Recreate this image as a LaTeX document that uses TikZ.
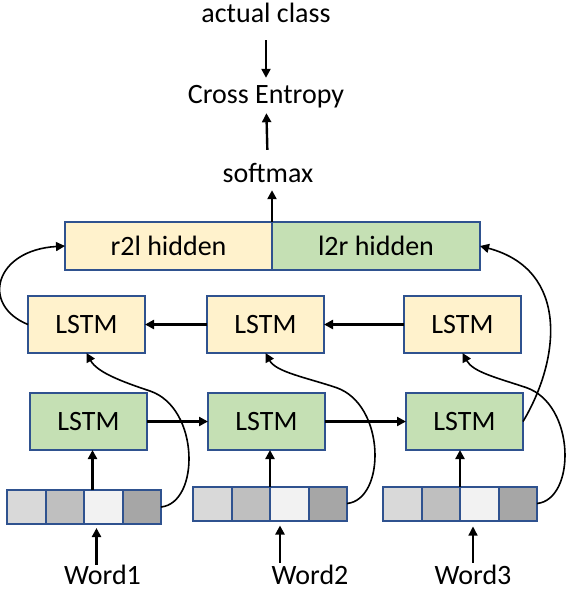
\documentclass[tikz,border=0pt]{standalone}
\usepackage{fontspec}
\setmainfont{Carlito}
\usepackage{xcolor}
\usetikzlibrary{positioning,arrows.meta,calc}

\definecolor{boxblue}{HTML}{2F528F}
\definecolor{r2lfill}{HTML}{FFF2CC}
\definecolor{l2rfill}{HTML}{C5E0B4}
\definecolor{grayA}{HTML}{D9D9D9}
\definecolor{grayB}{HTML}{BFBFBF}
\definecolor{grayC}{HTML}{F2F2F2}
\definecolor{grayD}{HTML}{A6A6A6}

\begin{document}
\begin{tikzpicture}[
  x=1pt, y=-1pt,
  font=\fontsize{28}{33}\selectfont,
  n/.style={draw=boxblue, line width=2pt, minimum width=117pt,
            minimum height=57pt, inner sep=0pt, outer sep=0pt},
  fwd/.style={n, fill=l2rfill},
  bwd/.style={n, fill=r2lfill},
  hid/.style={n, minimum width=207pt, minimum height=48pt},
  cell/.style={draw=boxblue, line width=2pt, minimum width=38.5pt,
               minimum height=34pt, inner sep=0pt, outer sep=0pt},
  txt/.style={text height=19pt, text depth=6pt, inner sep=2pt},
  word/.style={text height=18pt, text depth=0pt, inner sep=1pt},
  >={Triangle[length=9pt,width=9pt]},
  arr/.style={->, line width=2.4pt},
  curve/.style={->, line width=1.6pt}
]
  \useasboundingbox (0,0) rectangle (568,590);

  % --- loss on top
  \node[txt] (ac) at (266,15.5) {actual class};
  \node[txt] (ce) at (266,96.5) {Cross Entropy};
  \node[txt] (sm) at (268,175.5) {softmax};

  % --- concatenated hidden state
  \node[hid, fill=r2lfill, anchor=east] (r2l) at (272,246) {r2l hidden};
  \node[hid, fill=l2rfill, anchor=west, minimum width=208pt] (l2r) at (272,246) {l2r hidden};

  % --- backward LSTMs
  \node[bwd] (b1) at (86.5,324.5) {LSTM};
  \node[bwd, right=62pt of b1] (b2) {LSTM};
  \node[bwd, right=80pt of b2] (b3) {LSTM};

  % --- forward LSTMs
  \node[fwd] (f1) at (88.5,421.5) {LSTM};
  \node[fwd, right=61pt of f1] (f2) {LSTM};
  \node[fwd, right=81pt of f2] (f3) {LSTM};

  % --- word vectors
  \foreach \v/\x/\y in {1/7/507, 2/193/503.5, 3/383/503.5} {
    \node[cell, fill=grayA, anchor=west] (v\v1) at (\x,\y) {};
    \node[cell, fill=grayB, right=0pt of v\v1] (v\v2) {};
    \node[cell, fill=grayC, right=0pt of v\v2] (v\v3) {};
    \node[cell, fill=grayD, right=0pt of v\v3] (v\v4) {};
  }

  % --- words
  \node[word] (w1) at (102.5,575) {Word1};
  \node[word] (w2) at (310,575) {Word2};
  \node[word] (w3) at (473,575) {Word3};

  % top arrows
  \draw[arr, shorten <=10pt, shorten >=4pt] (ac) -- (ce);
  \draw[arr, shorten <=11pt, shorten >=2pt] (sm) -- (ce);
  \draw[arr] (r2l.north east) -- (r2l.north east |- sm.south);

  % chains
  \draw[arr] (f1) -- (f2);
  \draw[arr] (f2) -- (f3);
  \draw[arr] (b2) -- (b1);
  \draw[arr] (b3) -- (b2);

  % vectors into forward LSTMs
  \draw[arr] ([xshift=4pt]f1.south |- v11.north) -- ([xshift=4pt]f1.south);
  \draw[arr] (v22.north east) -- (v22.north east |- f2.south);
  \draw[arr] (v32.north east) -- (v32.north east |- f3.south);

  % words into vectors
  \draw[arr, shorten >=4pt] ([xshift=-6pt]w1.north) -- ([xshift=-6pt]w1.north |- v13.south);
  \draw[arr, shorten <=2pt, shorten >=5pt] ([xshift=-30pt]w2.north) -- ([xshift=-30pt]w2.north |- v23.south);
  \draw[->, line width=1.3pt, shorten <=2pt, shorten >=6pt] (w3.north) -- (w3.north |- v33.south);

  % vectors into backward LSTMs
  \draw[curve] (v14.east) .. controls +(39,-4) and +(50,17) .. ++(-11,-116)
    .. controls +(-30,-10) and +(10.5,19) .. (b1.south);
  \draw[curve] (v24.east) .. controls +(39,-4) and +(50,17) .. ++(-11,-116)
    .. controls +(-30,-10) and +(10.5,19) .. (b2.south);
  \draw[curve] (v34.east) .. controls +(39,-4) and +(50,17) .. ++(-11,-116)
    .. controls +(-30,-10) and +(10.5,19) .. (b3.south);

  % last states into hidden
  \draw[curve] (b1.west) .. controls (-20,305) and (-5,250) .. (r2l.west);
  \draw[curve] (f3.east) .. controls (560,360) and (570,270) .. (l2r.east);
\end{tikzpicture}
\end{document}
